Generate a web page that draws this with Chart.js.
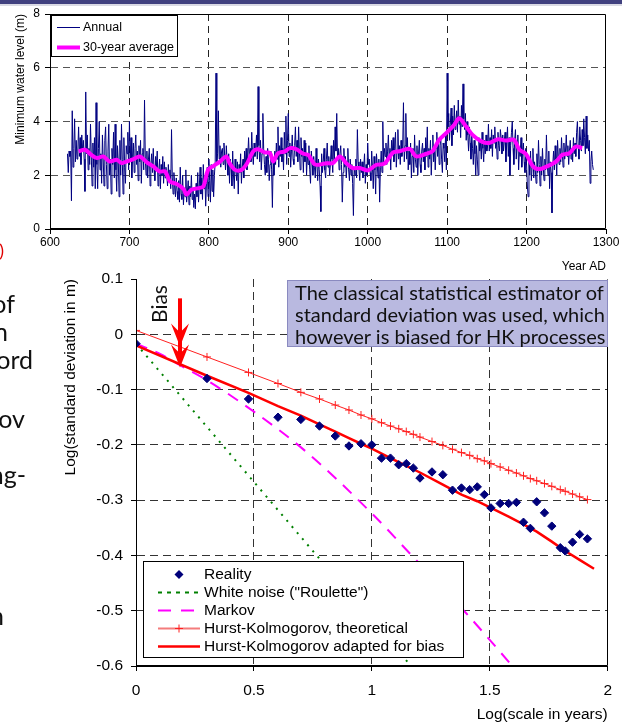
<!DOCTYPE html>
<html>
<head>
<meta charset="utf-8">
<title>Nile minimum water level and climacogram</title>
<script src="https://cdn.jsdelivr.net/npm/chart.js@4.4.1/dist/chart.umd.min.js"></script>
<style>
  html, body { margin: 0; padding: 0; background: #fff; }
  body { position: relative; width: 622px; height: 724px; overflow: hidden; }
  canvas { position: absolute; left: 0; }
  #levelChart { top: 0; }
  #stdChart { top: 240px; }
  #topBar { position: absolute; left: 0; top: 0; width: 622px; height: 4px; background: #41417f; border-bottom: 2px solid #dadae4; }
  .slide { position: absolute; height: 28px; font-family: Lato, "Open Sans", sans-serif; font-size: 25px; line-height: 28px; color: #111; white-space: nowrap; }
  #bias { position: absolute; left: 158px; top: 304px; font-family: Lato, sans-serif; font-size: 21px; line-height: 1; color: #111; white-space: nowrap; transform: translate(-50%, -50%) rotate(-90deg); }
  #note { position: absolute; left: 287px; top: 280px; width: 321px; height: 67px; box-sizing: border-box; background: #b9b9e0; border: 1px solid #8a8ac0; padding: 0 0 0 7px; font-family: Lato, sans-serif; font-size: 20px; line-height: 22px; color: #111; white-space: nowrap; }
</style>
</head>
<body>
<canvas id="levelChart" width="622" height="280"></canvas>
<canvas id="stdChart" width="622" height="484"></canvas>
<div id="topBar"></div>

<!-- cut-off slide text on the left -->
<div class="slide" style="right:618px; top:236px; color:#e00000; font-size:18px;">)</div>
<div class="slide" style="right:607px; top:289px;">of</div>
<div class="slide" style="right:614px; top:317px;">n</div>
<div class="slide" style="right:589px; top:345px;">ord</div>
<div class="slide" style="right:597px; top:404px;">ov</div>
<div class="slide" style="right:596px; top:460px;">ng-</div>
<div class="slide" style="right:618px; top:601px;">n</div>

<div id="bias">Bias</div>
<div id="note">The classical statistical estimator of<br>standard deviation was used, which<br>however is biased for HK processes</div>

<script>
// ---------- top chart: minimum water level (m), one value per year from 622 ----------
const firstYear = 622;
const annualLevels = [
  2.8, 2.1, 2.9, 2.7, 2.9, 1.05, 4.4, 2.3, 3.0, 4.1,
  2.5, 3.3, 2.6, 2.9, 3.8, 2.7, 3.4, 2.4, 3.5, 2.9,
  3.3, 2.6, 1.4, 5.1, 2.8, 3.5, 2.2, 3.0, 2.4, 3.9,
  2.7, 1.6, 3.2, 2.3, 3.4, 1.5, 4.7, 2.4, 1.5, 3.0,
  4.0, 2.2, 2.8, 1.7, 3.5, 2.6, 1.6, 3.3, 3.8, 2.4,
  1.5, 2.9, 3.9, 2.0, 2.6, 1.3, 3.0, 2.4, 3.6, 1.9,
  3.9, 2.2, 1.4, 3.1, 2.5, 1.2, 3.3, 2.0, 3.9, 2.6,
  1.3, 3.4, 2.3, 1.7, 3.1, 2.8, 3.6, 2.2, 4.0, 2.5,
  3.4, 1.9, 2.7, 3.2, 2.1, 3.0, 3.5, 2.4, 2.9, 1.8,
  3.1, 2.5, 3.3, 1.7, 2.8, 3.0, 2.2, 4.8, 2.6, 2.0,
  2.9, 1.9, 2.6, 3.0, 1.6, 2.4, 2.8, 2.1, 3.0, 2.2,
  1.8, 2.7, 2.3, 2.9, 1.6, 2.2, 2.6, 1.5, 2.4, 2.0,
  2.7, 1.7, 2.5, 1.9, 2.3, 2.0, 1.6, 2.4, 1.8, 2.2,
  1.5, 3.7, 1.9, 1.3, 2.1, 1.6, 1.2, 1.9, 1.4, 1.1,
  1.8, 1.0, 2.3, 1.3, 1.1, 2.0, 0.9, 1.5, 1.2, 2.2,
  1.0, 1.4, 1.8, 0.9, 1.6, 1.2, 2.0, 1.1, 1.5, 0.8,
  1.3, 0.75, 1.7, 1.2, 2.1, 1.0, 1.6, 2.3, 1.3, 1.9,
  1.1, 2.4, 1.5, 2.0, 0.85, 1.7, 2.3, 1.2, 2.6, 1.8,
  1.0, 2.4, 1.4, 2.2, 1.2, 2.0, 2.5, 5.8, 2.5, 2.8,
  4.4, 2.6, 3.1, 2.3, 2.9, 3.0, 2.4, 3.2, 2.7, 2.2,
  3.1, 2.5, 2.0, 2.8, 1.7, 2.6, 2.3, 1.6, 2.9, 2.0,
  1.5, 2.6, 2.2, 1.8, 2.5, 1.3, 2.4, 2.1, 2.8, 1.7,
  2.3, 2.6, 1.9, 2.9, 2.4, 3.0, 2.2, 2.7, 3.4, 2.6,
  3.0, 2.5, 3.6, 2.8, 2.4, 3.2, 2.7, 2.9, 3.5, 2.6,
  5.3, 3.1, 2.5, 3.3, 2.2, 2.8, 4.3, 3.0, 2.4, 2.0,
  2.7, 2.1, 3.0, 2.6, 1.8, 2.4, 2.9, 2.2, 0.8, 2.6,
  2.0, 2.9, 2.4, 3.2, 2.6, 3.8, 2.3, 3.1, 2.7, 3.4,
  2.5, 3.0, 2.2, 3.6, 2.8, 4.2, 2.4, 3.3, 4.3, 2.7,
  3.2, 2.3, 2.9, 3.5, 2.6, 2.4, 3.1, 3.8, 2.7, 3.3,
  2.5, 3.8, 2.9, 2.2, 3.4, 2.7, 3.0, 2.1, 3.3, 2.5,
  3.2, 2.0, 2.8, 2.4, 3.1, 2.2, 1.7, 2.9, 2.5, 2.0,
  2.7, 2.3, 1.9, 3.0, 2.4, 1.8, 2.6, 2.2, 1.6, 0.65,
  2.8, 2.1, 2.5, 3.0, 2.2, 1.9, 2.6, 3.2, 2.3, 2.7,
  2.0, 2.4, 3.1, 2.6, 2.1, 3.3, 2.5, 3.8, 2.9, 4.3,
  2.6, 3.0, 2.2, 2.8, 3.1, 2.4, 1.0, 2.1, 3.0, 2.3,
  2.7, 1.9, 2.5, 3.0, 2.2, 1.8, 2.6, 2.0, 2.4, 1.7,
  0.5, 2.3, 2.0, 2.6, 1.9, 3.7, 2.5, 2.2, 1.8, 2.6,
  2.1, 2.5, 1.9, 2.3, 2.8, 1.7, 2.4, 2.0, 3.2, 2.4,
  2.6, 2.1, 1.8, 2.9, 2.3, 1.5, 2.7, 2.2, 1.3, 2.8,
  2.4, 1.9, 2.6, 1.0, 2.3, 2.9, 2.1, 4.0, 2.5, 3.0,
  2.7, 3.2, 2.4, 2.9, 3.5, 2.6, 3.0, 2.2, 3.3, 2.8,
  3.4, 2.5, 3.0, 3.6, 2.3, 2.9, 3.7, 2.6, 3.1, 2.4,
  3.3, 2.7, 3.0, 4.7, 2.5, 3.1, 4.3, 2.6, 3.4, 2.2,
  2.9, 2.4, 3.2, 1.9, 2.7, 3.0, 2.1, 3.5, 2.6, 2.3,
  3.1, 2.0, 2.8, 3.3, 2.4, 2.1, 2.9, 3.2, 2.5, 3.0,
  2.2, 3.4, 2.7, 3.8, 2.3, 3.0, 2.6, 3.3, 2.0, 2.9,
  3.5, 2.5, 3.1, 2.2, 3.0, 3.6, 2.7, 3.3, 2.4, 3.1,
  3.4, 2.6, 2.1, 3.2, 3.0, 2.5, 3.5, 2.2, 5.8, 3.8,
  4.3, 3.3, 3.9, 4.5, 3.1, 4.2, 3.5, 4.6, 3.7, 4.0,
  4.4, 3.6, 4.8, 3.9, 4.2, 3.4, 4.6, 3.8, 5.4, 4.1,
  3.7, 4.3, 3.3, 4.0, 3.5, 2.9, 3.8, 3.2, 2.6, 3.5,
  3.0, 2.4, 3.3, 2.8, 2.0, 3.1, 2.6, 2.0, 3.4, 2.9,
  3.2, 2.6, 3.6, 3.0, 2.5, 3.3, 2.8, 3.5, 2.9, 3.1,
  3.9, 2.9, 3.4, 3.0, 3.7, 2.7, 3.5, 3.2, 3.8, 3.0,
  3.3, 2.6, 3.6, 3.1, 2.9, 3.7, 3.4, 2.8, 3.5, 2.9,
  3.3, 3.6, 2.5, 3.2, 3.8, 2.7, 3.4, 2.0, 3.1, 3.6,
  4.0, 3.0, 2.4, 3.3, 3.7, 2.6, 3.1, 3.5, 2.2, 3.0,
  2.7, 3.4, 2.3, 2.9, 3.2, 2.5, 2.1, 3.0, 2.4, 1.6,
  1.2, 2.6, 2.0, 2.9, 1.8, 2.3, 3.0, 1.9, 2.5, 2.2,
  1.7, 2.8, 2.1, 3.3, 2.4, 1.6, 2.7, 2.0, 3.0, 2.3,
  1.8, 2.6, 2.2, 3.5, 2.4, 2.0, 2.9, 1.5, 2.5, 2.1,
  0.6, 2.4, 2.9, 2.2, 3.1, 2.6, 2.0, 3.3, 2.7, 2.4,
  3.0, 2.5, 3.4, 2.8, 2.3, 3.2, 2.6, 2.9, 3.5, 2.7,
  3.1, 2.4, 2.9, 3.3, 2.6, 3.0, 2.5, 3.4, 2.8, 3.2,
  2.7, 3.6, 4.0, 3.1, 2.6, 3.8, 3.3, 2.9, 3.7, 3.1,
  4.1, 3.4, 2.8, 4.2, 3.0, 3.5, 2.9, 3.3, 1.7, 2.5,
  2.9, 2.4, 2.2
];

// 30-year average
const avgYears = [
  636, 644, 652, 659, 667, 675, 684, 690, 696, 705,
  713, 722, 730, 738, 745, 751, 759, 768, 772, 778,
  787, 793, 799, 805, 814, 822, 826, 833, 841, 847,
  856, 862, 870, 877, 881, 887, 896, 902, 910, 919,
  925, 933, 939, 948, 956, 965, 973, 981, 990, 1000,
  1011, 1021, 1032, 1040, 1053, 1061, 1074, 1082, 1090, 1101,
  1109, 1115, 1124, 1132, 1143, 1153, 1164, 1174, 1184, 1191,
  1199, 1208, 1216, 1227, 1237, 1245, 1254, 1262, 1270
];
const avgLevels = [
  2.89, 2.95, 2.76, 2.64, 2.70, 2.51, 2.58, 2.45, 2.51, 2.60,
  2.70, 2.48, 2.33, 2.14, 2.14, 1.77, 1.68, 1.49, 1.28, 1.46,
  1.52, 1.58, 2.20, 2.33, 2.51, 2.70, 2.45, 2.20, 2.20, 2.39,
  2.89, 2.97, 2.85, 2.82, 2.51, 2.82, 2.89, 3.01, 2.97, 2.80,
  2.76, 2.41, 2.39, 2.45, 2.45, 2.70, 2.45, 2.27, 2.27, 2.18,
  2.39, 2.43, 2.85, 2.89, 2.98, 2.70, 2.80, 2.91, 3.32, 3.63,
  3.88, 4.12, 3.81, 3.50, 3.26, 3.20, 3.34, 3.29, 3.32, 2.95,
  2.80, 2.33, 2.23, 2.35, 2.51, 2.76, 2.82, 3.07, 3.01
];
const yearTicks = [600, 700, 800, 900, 1000, 1100, 1200, 1300];
const levelTicks = [0, 2, 4, 6, 8];

// ---------- bottom chart: log(std) against log(scale) ----------
const scaleLogs = [
  0, 0.301, 0.477, 0.602, 0.699, 0.778, 0.845, 0.903, 0.954, 1.0,
  1.041, 1.079, 1.114, 1.146, 1.176, 1.204, 1.255, 1.301, 1.342, 1.380,
  1.415, 1.447, 1.477, 1.505, 1.544, 1.580, 1.613, 1.643, 1.672, 1.699,
  1.732, 1.763, 1.799, 1.820, 1.851, 1.881, 1.914
];
const realityStd = [
  -0.017, -0.080, -0.117, -0.150, -0.154, -0.166, -0.184, -0.202, -0.198, -0.200,
  -0.224, -0.224, -0.236, -0.234, -0.242, -0.260, -0.249, -0.254, -0.282, -0.278,
  -0.281, -0.276, -0.290, -0.314, -0.306, -0.306, -0.304, -0.340, -0.351, -0.303,
  -0.323, -0.347, -0.386, -0.392, -0.376, -0.362, -0.370
];
const hkTheoryStd = [
  0.007, -0.041, -0.069, -0.089, -0.105, -0.117, -0.128, -0.137, -0.146, -0.153,
  -0.160, -0.166, -0.171, -0.176, -0.181, -0.186, -0.194, -0.201, -0.208, -0.214,
  -0.219, -0.225, -0.229, -0.234, -0.240, -0.246, -0.251, -0.256, -0.261, -0.265,
  -0.270, -0.275, -0.281, -0.284, -0.289, -0.294, -0.299
];
const hkBiasLogs = [0, 0.301, 0.477, 0.602, 0.699, 0.778, 0.845, 0.903, 0.954, 1.0,
  1.079, 1.146, 1.204, 1.301, 1.380, 1.447, 1.505, 1.580, 1.643, 1.699, 1.763, 1.820, 1.881, 1.942];
const hkBiasStd = [-0.020, -0.075, -0.106, -0.130, -0.147, -0.163, -0.176, -0.188, -0.198, -0.207,
  -0.224, -0.238, -0.250, -0.272, -0.290, -0.302, -0.314, -0.330, -0.344, -0.357, -0.375, -0.392, -0.408, -0.424];
const whiteNoiseLogs = [0, 0.5, 1.0, 1.166];
const whiteNoiseStd = [-0.017, -0.267, -0.517, -0.600];
const markovLogs = [0, 0.1, 0.186, 0.3, 0.5, 0.723, 1.0, 1.182, 1.401, 1.606];
const markovStd = [-0.017, -0.035, -0.056, -0.083, -0.140, -0.213, -0.324, -0.406, -0.505, -0.605];
const scaleTicks = [0, 0.5, 1, 1.5, 2];
const stdTicks = [0.1, 0, -0.1, -0.2, -0.3, -0.4, -0.5, -0.6];

const ARIAL = '"Liberation Sans", Arial, sans-serif';
Chart.defaults.font.family = ARIAL;
Chart.defaults.color = '#000';

const pts = (xs, ys) => xs.map((x, i) => ({ x, y: ys[i] }));
// hide the grid line that sits on the plot edge, the frame takes care of it
const innerGrid = color => c =>
  (c.tick && (c.tick.value === c.scale.min || c.tick.value === c.scale.max)) ? 'rgba(0,0,0,0)' : color;
const fixTicks = values => scale => { scale.ticks = values.map(v => ({ value: v })); };

const framePlugin = {
  id: 'frame',
  afterDatasetsDraw(chart, args, opts) {
    const { ctx, chartArea: a } = chart;
    const l = Math.round(a.left) + 0.5, r = Math.round(a.right) - 0.5;
    const t = Math.round(a.top) + 0.5, b = Math.round(a.bottom) - 0.5;
    ctx.save();
    ctx.strokeStyle = '#000';
    ctx.lineWidth = 1;
    ctx.beginPath();
    ctx.moveTo(l, t); ctx.lineTo(l, b); ctx.lineTo(r, b); ctx.lineTo(r, t);
    if (opts.top) ctx.lineTo(l, t);
    ctx.stroke();
    ctx.restore();
  }
};

function drawDiamond(ctx, x, y, r, color) {
  ctx.fillStyle = color;
  ctx.beginPath();
  ctx.moveTo(x - r, y); ctx.lineTo(x, y - r); ctx.lineTo(x + r, y); ctx.lineTo(x, y + r);
  ctx.closePath();
  ctx.fill();
}

function drawCross(ctx, x, y, r, color) {
  ctx.strokeStyle = color;
  ctx.lineWidth = 1;
  ctx.setLineDash([]);
  ctx.beginPath();
  ctx.moveTo(x - r, y); ctx.lineTo(x + r, y);
  ctx.moveTo(x, y - r); ctx.lineTo(x, y + r);
  ctx.stroke();
}

// legend box drawn inside the plot area, like the spreadsheet original
const boxLegend = {
  id: 'boxLegend',
  afterDraw(chart, args, o) {
    const { ctx, chartArea: a } = chart;
    const bx = Math.round(a.left + o.dx);
    const by = Math.round(o.fromBottom ? a.bottom - o.dy - o.h : a.top + o.dy);
    ctx.save();
    ctx.fillStyle = '#fff';
    ctx.fillRect(bx, by, o.w, o.h);
    ctx.strokeStyle = '#000';
    ctx.lineWidth = 1;
    ctx.strokeRect(bx + 0.5, by + 0.5, o.w - 1, o.h - 1);
    ctx.font = o.font;
    ctx.textBaseline = 'middle';
    chart.data.datasets.forEach((ds, i) => {
      const yy = Math.round(by + o.first + i * o.gap) + 0.5;
      const x1 = bx + o.lineFrom, x2 = bx + o.lineTo, xm = (x1 + x2) / 2;
      if (ds.showLine !== false) {
        ctx.strokeStyle = ds.legendColor || ds.borderColor;
        ctx.lineWidth = ds.legendWidth || ds.borderWidth;
        ctx.setLineDash(ds.legendDash || ds.borderDash || []);
        ctx.beginPath(); ctx.moveTo(x1, yy); ctx.lineTo(x2, yy); ctx.stroke();
        ctx.setLineDash([]);
      }
      if (ds.pointStyle === 'rectRot') drawDiamond(ctx, xm, yy, 4.5, ds.pointBackgroundColor);
      if (ds.pointStyle === 'cross') drawCross(ctx, xm, yy, 4, ds.pointBorderColor);
      ctx.fillStyle = '#000';
      ctx.fillText(ds.label, bx + o.textAt, yy);
    });
    ctx.restore();
  }
};

const biasArrow = {
  id: 'biasArrow',
  afterDatasetsDraw(chart, args, o) {
    const { ctx, scales: { x, y } } = chart;
    const px = Math.round(x.getPixelForValue(o.at));
    const top = y.getPixelForValue(o.from);
    const tip = y.getPixelForValue(o.to);
    ctx.save();
    ctx.strokeStyle = ctx.fillStyle = '#ff0000';
    ctx.lineWidth = 4;
    ctx.beginPath(); ctx.moveTo(px, top); ctx.lineTo(px, tip - 12); ctx.stroke();
    [tip - 21, tip].forEach(t => {
      ctx.beginPath();
      ctx.moveTo(px, t);
      ctx.lineTo(px - 9, t - 23);
      ctx.lineTo(px, t - 14);
      ctx.lineTo(px + 9, t - 23);
      ctx.closePath();
      ctx.fill();
    });
    ctx.restore();
  }
};

// ---------- top chart ----------
new Chart(document.getElementById('levelChart'), {
  type: 'line',
  data: {
    datasets: [
      {
        label: 'Annual',
        data: annualLevels.map((v, i) => ({ x: firstYear + i, y: v })),
        borderColor: '#000080', borderWidth: 1, pointRadius: 0, tension: 0, order: 1
      },
      {
        label: '30-year average',
        data: pts(avgYears, avgLevels),
        borderColor: '#ff00ff', borderWidth: 4, pointRadius: 0, tension: 0.3, order: 0
      }
    ]
  },
  options: {
    responsive: false, animation: false, devicePixelRatio: 1,
    layout: { padding: { top: 14, right: 16, left: 0, bottom: 0 } },
    plugins: {
      legend: { display: false }, tooltip: { enabled: false },
      frame: { top: true },
      boxLegend: { dx: 1, dy: 1, w: 127, h: 42, first: 11.5, gap: 20, lineFrom: 6, lineTo: 29, textAt: 32, font: '12.5px ' + ARIAL }
    },
    scales: {
      x: {
        type: 'linear', min: 600, max: 1300,
        afterBuildTicks: fixTicks(yearTicks),
        afterFit: s => { s.height = 51; },
        ticks: { autoSkip: false, maxRotation: 0, padding: 1, font: { size: 12 }, callback: v => v },
        grid: { color: innerGrid('#222'), tickColor: '#000', tickLength: 5, tickBorderDash: [] },
        border: { color: '#000', dash: [7, 5] },
        title: { display: true, text: 'Year AD', align: 'end', font: { size: 12 }, padding: { top: 0, bottom: 6 } }
      },
      y: {
        min: 0, max: 8,
        afterBuildTicks: fixTicks(levelTicks),
        afterFit: s => { s.width = 50; },
        ticks: { autoSkip: false, padding: 5, font: { size: 12 }, callback: v => v },
        grid: { color: innerGrid('#555'), tickColor: '#000', tickLength: 5, tickBorderDash: [] },
        border: { color: '#000', dash: [7, 5] },
        title: { display: true, text: 'Minimum water level (m)', align: 'end', font: { size: 12 }, padding: { top: 13, bottom: 0 } }
      }
    }
  },
  plugins: [framePlugin, boxLegend]
});

// ---------- bottom chart ----------
new Chart(document.getElementById('stdChart'), {
  type: 'line',
  data: {
    datasets: [
      {
        label: 'Reality', data: pts(scaleLogs, realityStd), showLine: false,
        pointStyle: 'rectRot', pointRadius: 4.2, pointBorderWidth: 1,
        pointBackgroundColor: '#00007a', pointBorderColor: '#00007a', borderColor: '#00007a', order: 0
      },
      {
        label: 'White noise ("Roulette")', data: pts(whiteNoiseLogs, whiteNoiseStd),
        borderColor: '#008000', borderWidth: 2, borderDash: [2, 6], pointRadius: 0,
        legendDash: [4, 5], order: 4
      },
      {
        label: 'Markov', data: pts(markovLogs, markovStd),
        borderColor: '#ff00ff', borderWidth: 2, borderDash: [12, 9], pointRadius: 0,
        cubicInterpolationMode: 'monotone', legendDash: [13, 10], order: 3
      },
      {
        label: 'Hurst-Kolmogorov, theoretical', data: pts(scaleLogs, hkTheoryStd),
        borderColor: '#ff2020', borderWidth: 1, pointStyle: 'cross', pointRadius: 4,
        pointBorderColor: '#ff2020', pointBorderWidth: 1,
        legendColor: '#f47c7c', legendWidth: 2, order: 2
      },
      {
        label: 'Hurst-Kolmogorov adapted for bias', data: pts(hkBiasLogs, hkBiasStd),
        borderColor: '#ff0000', borderWidth: 2.5, pointRadius: 0, tension: 0, order: 1
      }
    ]
  },
  options: {
    responsive: false, animation: false, devicePixelRatio: 1,
    layout: { padding: { top: 39, right: 14, left: 0, bottom: 0 } },
    plugins: {
      legend: { display: false }, tooltip: { enabled: false },
      frame: { top: false },
      biasArrow: { at: 0.186, from: 0.065, to: -0.060 },
      boxLegend: { fromBottom: true, dx: 7, dy: 8, w: 321, h: 97, first: 12.5, gap: 18.1, lineFrom: 15, lineTo: 57, textAt: 61, font: '15.5px ' + ARIAL }
    },
    scales: {
      x: {
        type: 'linear', min: 0, max: 2,
        afterBuildTicks: fixTicks(scaleTicks),
        afterFit: s => { s.height = 58; },
        ticks: { autoSkip: false, maxRotation: 0, padding: 10, font: { size: 15.5 }, callback: v => String(v) },
        grid: { color: innerGrid('#333'), tickColor: '#000', tickLength: 5, tickBorderDash: [] },
        border: { color: '#000', dash: [8, 5] },
        title: { display: true, text: 'Log(scale in years)', align: 'end', font: { size: 15.5 }, padding: { top: 0, bottom: 0 } }
      },
      y: {
        min: -0.6, max: 0.1,
        afterBuildTicks: fixTicks(stdTicks),
        afterFit: s => { s.width = 136; },
        ticks: { autoSkip: false, padding: 8, font: { size: 15.5 }, callback: v => String(Math.round(v * 10) / 10) },
        grid: { color: innerGrid('#333'), tickColor: '#000', tickLength: 5, tickBorderDash: [] },
        border: { color: '#000', dash: [8, 5] },
        title: { display: true, text: 'Log(standard deviation in m)', align: 'end', font: { size: 15.5 }, padding: { top: 61, bottom: 0 } }
      }
    }
  },
  plugins: [framePlugin, biasArrow, boxLegend]
});
</script>
</body>
</html>
